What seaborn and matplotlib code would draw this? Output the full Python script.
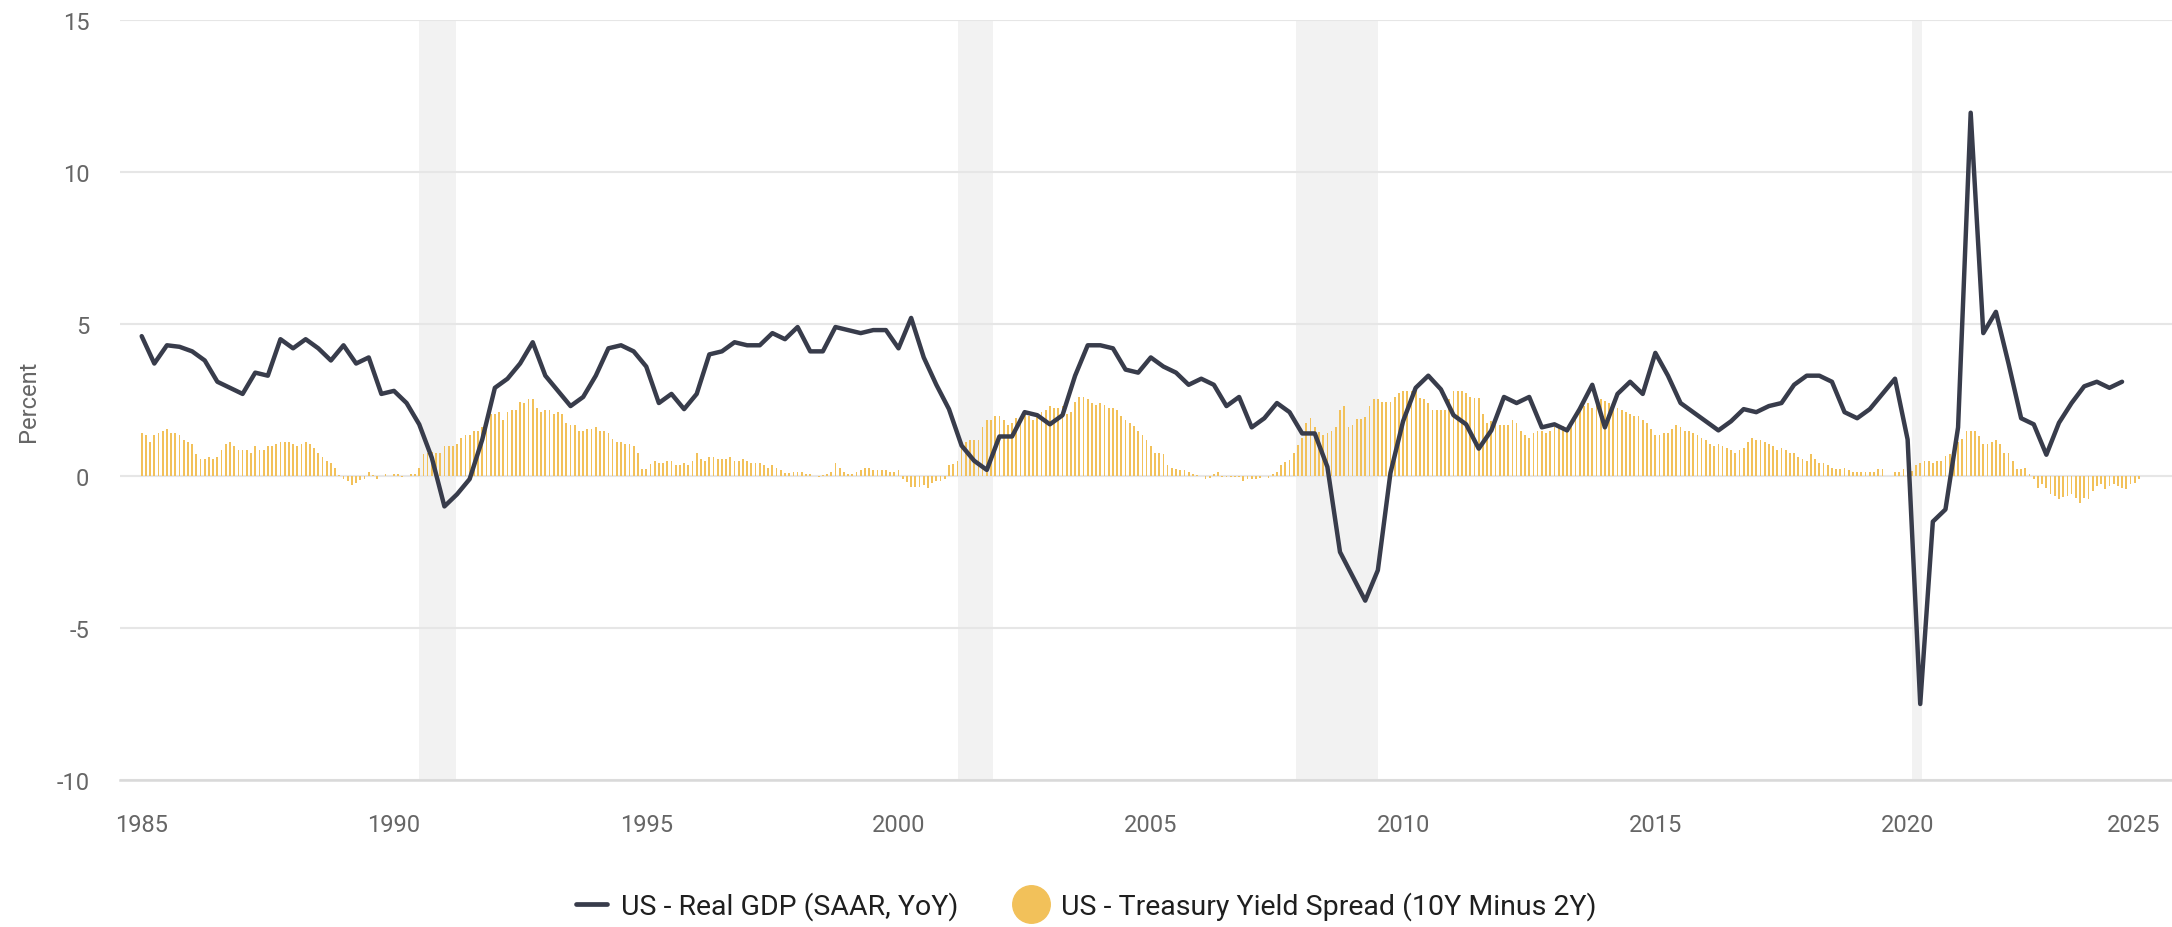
import numpy as np
import pandas as pd
import matplotlib
matplotlib.use("Agg")
import matplotlib.pyplot as plt
from matplotlib.lines import Line2D
import seaborn as sns

# ---------------- data ----------------
gdp_start_year = 1985
# US Real GDP (SAAR, YoY), quarterly 1985Q1 .. 2024Q2
gdp = [
    4.6, 3.7, 4.3, 4.25,   # 1985
    4.1, 3.8, 3.1, 2.9,    # 1986
    2.7, 3.4, 3.3, 4.5,    # 1987
    4.2, 4.5, 4.2, 3.8,    # 1988
    4.3, 3.7, 3.9, 2.7,    # 1989
    2.8, 2.4, 1.7, 0.6,    # 1990
    -1.0, -0.6, -0.1, 1.2, # 1991
    2.9, 3.2, 3.7, 4.4,    # 1992
    3.3, 2.8, 2.3, 2.6,    # 1993
    3.3, 4.2, 4.3, 4.1,    # 1994
    3.6, 2.4, 2.7, 2.2,    # 1995
    2.7, 4.0, 4.1, 4.4,    # 1996
    4.3, 4.3, 4.7, 4.5,    # 1997
    4.9, 4.1, 4.1, 4.9,    # 1998
    4.8, 4.7, 4.8, 4.8,    # 1999
    4.2, 5.2, 3.9, 3.0,    # 2000
    2.2, 1.0, 0.5, 0.2,    # 2001
    1.3, 1.3, 2.1, 2.0,    # 2002
    1.7, 2.0, 3.3, 4.3,    # 2003
    4.3, 4.2, 3.5, 3.4,    # 2004
    3.9, 3.6, 3.4, 3.0,    # 2005
    3.2, 3.0, 2.3, 2.6,    # 2006
    1.6, 1.9, 2.4, 2.1,    # 2007
    1.4, 1.4, 0.3, -2.5,   # 2008
    -3.3, -4.1, -3.1, 0.1, # 2009
    1.8, 2.9, 3.3, 2.85,   # 2010
    2.0, 1.7, 0.9, 1.5,    # 2011
    2.6, 2.4, 2.6, 1.6,    # 2012
    1.7, 1.5, 2.2, 3.0,    # 2013
    1.6, 2.7, 3.1, 2.7,    # 2014
    4.05, 3.3, 2.4, 2.1,   # 2015
    1.8, 1.5, 1.8, 2.2,    # 2016
    2.1, 2.3, 2.4, 3.0,    # 2017
    3.3, 3.3, 3.1, 2.1,    # 2018
    1.9, 2.2, 2.7, 3.2,    # 2019
    1.2, -7.5, -1.5, -1.1, # 2020
    1.6, 11.95, 4.7, 5.4,  # 2021
    3.7, 1.9, 1.7, 0.7,    # 2022
    1.75, 2.4, 2.95, 3.1,  # 2023
    2.9, 3.1,              # 2024
]

spread_start_year = 1985
# US Treasury Yield Spread (10Y minus 2Y), monthly 1985-01 .. 2024-08
spread = [
    1.40, 1.34, 1.12, 1.34, 1.40, 1.48, 1.54, 1.40, 1.40, 1.34, 1.18, 1.12,   # 1985
    1.04, 0.71, 0.57, 0.57, 0.64, 0.57, 0.64, 0.84, 1.06, 1.12, 0.99, 0.84,   # 1986
    0.84, 0.84, 0.77, 0.99, 0.84, 0.84, 0.99, 0.99, 1.04, 1.12, 1.12, 1.12,   # 1987
    1.06, 0.99, 1.04, 1.12, 1.06, 0.91, 0.77, 0.64, 0.49, 0.44, 0.27, 0.02,   # 1988
    -0.11, -0.16, -0.31, -0.22, -0.14, -0.09, 0.13, 0.02, -0.09, 0.0, 0.08, 0.0,  # 1989
    0.08, 0.08, -0.03, 0.0, 0.08, 0.08, 0.27, 0.71, 0.77, 0.80, 0.77, 0.77,   # 1990
    0.99, 0.99, 0.99, 1.06, 1.26, 1.34, 1.34, 1.48, 1.48, 1.62, 1.97, 2.03,   # 1991
    2.03, 2.11, 1.84, 2.11, 2.17, 2.17, 2.45, 2.39, 2.52, 2.52, 2.25, 2.11,   # 1992
    2.17, 2.17, 2.03, 2.11, 2.03, 1.75, 1.69, 1.69, 1.48, 1.48, 1.55, 1.55,   # 1993
    1.62, 1.48, 1.48, 1.40, 1.21, 1.13, 1.13, 1.06, 1.06, 0.99, 0.77, 0.22,   # 1994
    0.22, 0.38, 0.49, 0.44, 0.44, 0.49, 0.49, 0.36, 0.36, 0.44, 0.36, 0.49,   # 1995
    0.77, 0.57, 0.49, 0.64, 0.64, 0.57, 0.57, 0.57, 0.64, 0.49, 0.49, 0.57,   # 1996
    0.49, 0.44, 0.44, 0.44, 0.36, 0.27, 0.36, 0.27, 0.20, 0.11, 0.11, 0.14,   # 1997
    0.14, 0.13, 0.08, 0.08, 0.0, -0.03, 0.02, 0.08, 0.14, 0.42, 0.27, 0.14,   # 1998
    0.08, 0.08, 0.14, 0.21, 0.27, 0.27, 0.21, 0.21, 0.21, 0.21, 0.14, 0.14,   # 1999
    0.21, -0.11, -0.20, -0.36, -0.36, -0.36, -0.31, -0.38, -0.22, -0.16, -0.16, -0.11,  # 2000
    0.35, 0.41, 0.49, 0.93, 1.12, 1.18, 1.18, 1.18, 1.61, 1.83, 1.83, 1.97,   # 2001
    1.97, 1.83, 1.67, 1.75, 1.90, 1.97, 2.11, 1.97, 1.83, 2.03, 2.11, 2.17,   # 2002
    2.30, 2.25, 2.25, 2.30, 2.03, 2.11, 2.45, 2.60, 2.60, 2.52, 2.39, 2.32,   # 2003
    2.39, 2.32, 2.25, 2.25, 2.17, 1.97, 1.83, 1.75, 1.64, 1.48, 1.34, 1.18,   # 2004
    0.99, 0.77, 0.77, 0.71, 0.36, 0.27, 0.22, 0.20, 0.20, 0.14, 0.08, 0.02,   # 2005
    0.0, -0.11, -0.05, 0.08, 0.13, -0.03, -0.03, -0.03, -0.03, -0.03, -0.16, -0.11,  # 2006
    -0.11, -0.11, -0.05, 0.0, -0.05, 0.05, 0.13, 0.35, 0.47, 0.53, 0.77, 1.01,  # 2007
    1.26, 1.75, 1.90, 1.61, 1.45, 1.34, 1.40, 1.48, 1.61, 2.17, 2.30, 1.62,   # 2008
    1.67, 1.89, 1.89, 1.95, 2.30, 2.52, 2.52, 2.45, 2.45, 2.45, 2.60, 2.72,   # 2009
    2.80, 2.80, 2.80, 2.85, 2.58, 2.52, 2.41, 2.17, 2.17, 2.17, 2.17, 2.52,   # 2010
    2.80, 2.80, 2.80, 2.72, 2.60, 2.58, 2.58, 2.03, 1.75, 1.81, 1.67, 1.67,   # 2011
    1.67, 1.67, 1.83, 1.75, 1.48, 1.34, 1.26, 1.40, 1.48, 1.48, 1.40, 1.48,   # 2012
    1.61, 1.61, 1.64, 1.48, 1.75, 1.97, 2.19, 2.30, 2.39, 2.25, 2.39, 2.52,   # 2013
    2.47, 2.39, 2.39, 2.25, 2.17, 2.11, 2.03, 1.97, 1.97, 1.83, 1.75, 1.54,   # 2014
    1.34, 1.34, 1.40, 1.40, 1.54, 1.67, 1.61, 1.48, 1.48, 1.40, 1.34, 1.26,   # 2015
    1.18, 1.04, 0.99, 1.04, 0.99, 0.91, 0.84, 0.77, 0.84, 0.91, 1.12, 1.26,   # 2016
    1.20, 1.20, 1.12, 1.04, 0.99, 0.84, 0.91, 0.84, 0.77, 0.77, 0.64, 0.57,   # 2017
    0.49, 0.71, 0.57, 0.44, 0.44, 0.36, 0.27, 0.22, 0.22, 0.27, 0.20, 0.14,   # 2018
    0.14, 0.14, 0.14, 0.14, 0.14, 0.22, 0.22, 0.0, 0.0, 0.14, 0.14, 0.22,     # 2019
    0.05, 0.16, 0.35, 0.44, 0.49, 0.49, 0.44, 0.49, 0.49, 0.66, 0.73, 0.93,   # 2020
    1.12, 1.21, 1.48, 1.48, 1.48, 1.32, 1.04, 1.04, 1.12, 1.18, 1.04, 0.77,   # 2021
    0.77, 0.49, 0.22, 0.22, 0.27, 0.05, -0.11, -0.38, -0.27, -0.38, -0.60, -0.66,  # 2022
    -0.77, -0.68, -0.66, -0.60, -0.71, -0.88, -0.71, -0.77, -0.49, -0.33, -0.27, -0.44,  # 2023
    -0.33, -0.27, -0.33, -0.38, -0.44, -0.27, -0.22, -0.11,                   # 2024
]

# NBER recessions (decimal years)
recessions = [(1990.5, 1991.22), (2001.17, 2001.87), (2007.88, 2009.5), (2020.09, 2020.29)]

year_ticks = [1985, 1990, 1995, 2000, 2005, 2010, 2015, 2020, 2025]
y_ticks = [-10, -5, 0, 5, 10, 15]

gdp_label = "US - Real GDP (SAAR, YoY)"
spread_label = "US - Treasury Yield Spread (10Y Minus 2Y)"
y_label = "Percent"

# ---------------- frames ----------------
gdp_df = pd.DataFrame({
    "t": gdp_start_year + np.arange(len(gdp)) / 4.0,
    "value": gdp,
})
spread_df = pd.DataFrame({
    "t": np.round(spread_start_year + np.arange(len(spread)) / 12.0, 5),
    "value": spread,
})

# ---------------- style ----------------
LINE_C = "#383c4b"
BAR_C = "#f2c15a"
GRID_C = "#e6e6e6"
TXT_C = "#666666"

sns.set_theme(style="white")
plt.rcParams["font.family"] = ["Roboto", "DejaVu Sans"]

fig = plt.figure(figsize=(21.72, 9.28), dpi=100)
ax = fig.add_axes([120 / 2172, 1 - 781 / 928, 1 - 120 / 2172, (781 - 21) / 928])

for s, e in recessions:
    ax.axvspan(s, e, color="#f2f2f2", zorder=0.2, lw=0)

sns.barplot(data=spread_df, x="t", y="value", native_scale=True, width=0.42,
            color=BAR_C, saturation=1, errorbar=None, ax=ax, zorder=2,
            linewidth=0)

sns.lineplot(data=gdp_df, x="t", y="value", color=LINE_C, linewidth=3.2,
             ax=ax, zorder=3)

ax.set_xlim(1984.57, 2025.24)
ax.set_ylim(-10, 15)

ax.set_axisbelow(True)
ax.yaxis.grid(True, color=GRID_C, linewidth=1.5)
ax.xaxis.grid(False)
for side in ["top", "right", "left"]:
    ax.spines[side].set_visible(False)
ax.spines["bottom"].set_color("#d9d9d9")
ax.spines["bottom"].set_linewidth(1.8)

ax.set_yticks(y_ticks)
ax.set_yticklabels([str(v) for v in y_ticks])
ax.set_xticks(year_ticks)
ax.set_xticklabels([str(v) for v in year_ticks])

ax.tick_params(axis="y", length=0, pad=22, labelsize=17, labelcolor=TXT_C)
ax.tick_params(axis="x", length=14, width=1.5, color="#d9d9d9", pad=10,
               labelsize=17, labelcolor=TXT_C, direction="out")

ax.set_xlabel("")
ax.set_ylabel(y_label, fontsize=17, color=TXT_C, labelpad=12)

handles = [
    Line2D([0], [0], color=LINE_C, lw=3.4),
    Line2D([0], [0], marker="o", color="w", markerfacecolor=BAR_C,
           markeredgecolor=BAR_C, markersize=27, linestyle=""),
]
fig.legend(handles, [gdp_label, spread_label], loc="center",
           bbox_to_anchor=(0.5, 1 - 907 / 928), ncol=2, frameon=False,
           fontsize=20.5, labelcolor="#1f1f1f", handlelength=1.1,
           handletextpad=0.5, columnspacing=2.0)

# keep the last year label inside the figure
for lbl in ax.get_xticklabels():
    if lbl.get_text() == str(year_ticks[-1]):
        lbl.set_horizontalalignment("right")
        lbl.set_x(year_ticks[-1] + 0.05)

fig.savefig("out.png", dpi=100, facecolor="white")
